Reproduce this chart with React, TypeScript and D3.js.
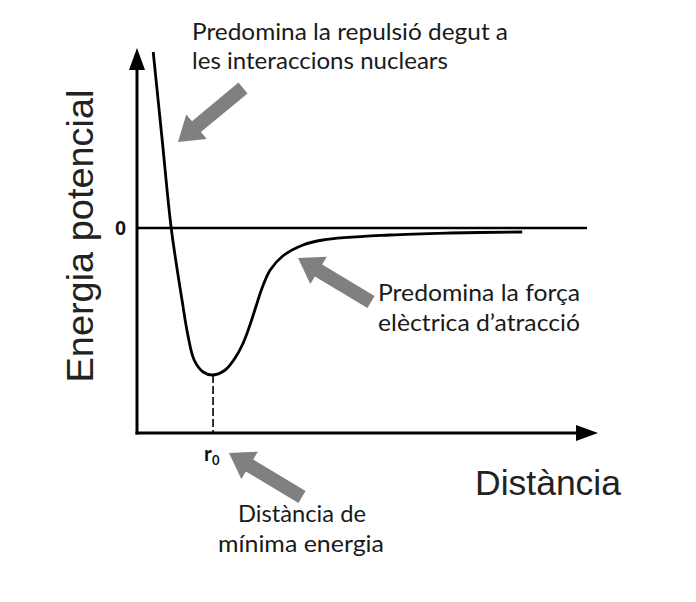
import React from "react";
import * as d3 from "d3";

// Potential energy curve (arbitrary units)
const distance = [0.36, 0.56, 0.76, 1.0, 1.13, 1.27, 1.47, 1.69, 1.96, 2.18, 2.36, 2.51, 2.64, 2.78, 2.96, 3.24, 3.69, 4.13, 5.62, 6.96, 8.56];
const energy = [3.52, 1.76, 0.0, -1.44, -2.14, -2.64, -2.88, -2.94, -2.84, -2.6, -2.3, -1.94, -1.58, -1.2, -0.84, -0.56, -0.34, -0.24, -0.14, -0.1, -0.08];
const r0 = 1.69;
const yTickLabels = ["0"];
const yTickValues = [0];
const xTitle = "Distància";
const yTitle = "Energia potencial";
const r0Label = "r";
const r0Sub = "0";
const noteRepulsion = ["Predomina la repulsió degut a", "les interaccions nuclears"];
const noteAttraction = ["Predomina la força", "elèctrica d’atracció"];
const noteMinimum = ["Distància de", "mínima energia"];

const W = 696;
const H = 602;

function blockArrow(x1: number, y1: number, x2: number, y2: number, shaft: number, head: number, headLen: number) {
  const dx = x2 - x1, dy = y2 - y1;
  const L = Math.hypot(dx, dy);
  const ux = dx / L, uy = dy / L;
  const nx = -uy, ny = ux;
  const bx = x2 - ux * headLen, by = y2 - uy * headLen;
  const p = (x: number, y: number) => `${x.toFixed(1)},${y.toFixed(1)}`;
  return [
    p(x1 + nx * shaft / 2, y1 + ny * shaft / 2),
    p(bx + nx * shaft / 2, by + ny * shaft / 2),
    p(bx + nx * head / 2, by + ny * head / 2),
    p(x2, y2),
    p(bx - nx * head / 2, by - ny * head / 2),
    p(bx - nx * shaft / 2, by - ny * shaft / 2),
    p(x1 - nx * shaft / 2, y1 - ny * shaft / 2),
  ].join(" ");
}

export default function App() {
  const x = d3.scaleLinear().domain([0, 10]).range([137, 587]);
  const y = d3.scaleLinear().domain([-4.1, 3.6]).range([433, 48]);
  const pts: [number, number][] = distance.map((d, i) => [d, energy[i]]);
  const line = d3
    .line<[number, number]>()
    .x((d) => x(d[0]))
    .y((d) => y(d[1]))
    .curve(d3.curveCatmullRom.alpha(0.5));

  const x0 = x(0);
  const yBottom = y(-4.1);
  const yTop = y(3.6);
  const xEnd = 598;
  const minE = Math.min(...energy);

  const note = { fontFamily: "Lato, 'Open Sans', sans-serif", fontSize: 23, fill: "#1a1a1a" } as const;

  return (
    <svg width={W} height={H} style={{ position: "absolute", left: 0, top: 0, background: "#fff" }}>
      <rect width={W} height={H} fill="#fff" />
      {/* zero line */}
      <line x1={x0} x2={x(10)} y1={y(0)} y2={y(0)} stroke="#000" strokeWidth={2.6} />
      {/* curve */}
      <path d={line(pts) || ""} fill="none" stroke="#000" strokeWidth={2.8} strokeLinejoin="round" />
      {/* dashed drop line */}
      <line x1={x(r0)} x2={x(r0)} y1={y(minE)} y2={yBottom} stroke="#000" strokeWidth={1.6} strokeDasharray="8,3" />
      {/* axes */}
      <line x1={x0} x2={x0} y1={yBottom + 1.5} y2={yTop + 18} stroke="#000" strokeWidth={3} />
      <polygon points={`${x0},${yTop} ${x0 - 8},${yTop + 22} ${x0 + 8},${yTop + 22}`} fill="#000" />
      <line x1={x0 - 1.5} x2={xEnd - 18} y1={yBottom} y2={yBottom} stroke="#000" strokeWidth={3} />
      <polygon points={`${xEnd},${yBottom} ${xEnd - 22},${yBottom - 8} ${xEnd - 22},${yBottom + 8}`} fill="#000" />
      {/* y tick label */}
      {yTickValues.map((v, i) => (
        <text key={i} x={x0 - 11} y={y(v) + 7} textAnchor="end" fontFamily="'Liberation Sans', Arial, sans-serif" fontSize={20} fontWeight="bold" fill="#111">
          {yTickLabels[i]}
        </text>
      ))}
      {/* titles */}
      <text transform={`translate(93,236) rotate(-90)`} textAnchor="middle" fontFamily="'Liberation Sans', Arial, sans-serif" fontSize={37} fill="#222" textLength={293} lengthAdjust="spacingAndGlyphs">
        {yTitle}
      </text>
      <text x={475} y={495} fontFamily="'Liberation Sans', Arial, sans-serif" fontSize={35} fill="#222" textLength={146} lengthAdjust="spacingAndGlyphs">
        {xTitle}
      </text>
      {/* r0 */}
      <text x={x(r0) - 9} y={461} fontFamily="Lato, 'Open Sans', sans-serif" fontSize={21} fontWeight="bold" fill="#111">
        {r0Label}
        <tspan fontSize={13} dy={4}>{r0Sub}</tspan>
      </text>
      {/* arrows */}
      <polygon points={blockArrow(243, 88, 178, 142, 14, 32, 24)} fill="#808080" />
      <polygon points={blockArrow(371, 302, 298, 258, 14, 32, 24)} fill="#808080" />
      <polygon points={blockArrow(302, 497, 229, 453, 14, 32, 24)} fill="#808080" />
      {/* notes */}
      <text x={192} y={40} {...note} textLength={316} lengthAdjust="spacingAndGlyphs">{noteRepulsion[0]}</text>
      <text x={192} y={69} {...note} textLength={256} lengthAdjust="spacingAndGlyphs">{noteRepulsion[1]}</text>
      <text x={378} y={301} {...note} textLength={202} lengthAdjust="spacingAndGlyphs">{noteAttraction[0]}</text>
      <text x={378} y={331} {...note} textLength={202} lengthAdjust="spacingAndGlyphs">{noteAttraction[1]}</text>
      <text x={238} y={522} {...note} textLength={128} lengthAdjust="spacingAndGlyphs">{noteMinimum[0]}</text>
      <text x={218} y={552} {...note} textLength={166} lengthAdjust="spacingAndGlyphs">{noteMinimum[1]}</text>
    </svg>
  );
}
